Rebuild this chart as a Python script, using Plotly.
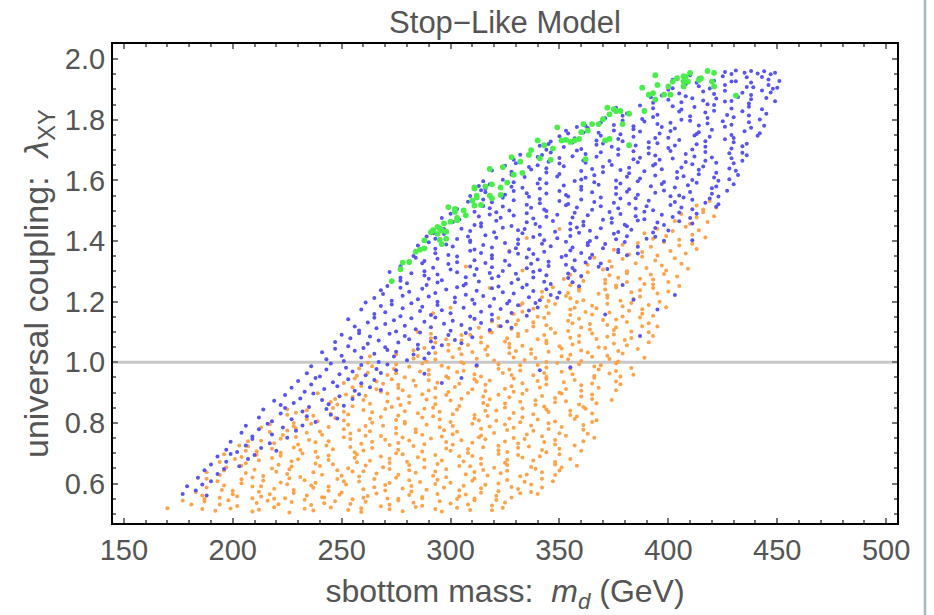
import plotly.graph_objects as go

# Scan points: (sbottom mass m_d in GeV, universal coupling lambda_XY), one list per outcome class.
orange_pts = [
    # lambda 0.50-0.55
    (170,0.519),(177,0.544),(181,0.531),
    (186,0.516),(187,0.549),(187,0.541),(192,0.510),(194,0.531),(198,0.545),(199,0.518),(202,0.526),(209,0.552),(209,0.508),
    (211,0.536),(212,0.514),(216,0.543),(219,0.522),(219,0.550),(221,0.532),(226,0.505),(227,0.539),(233,0.517),(233,0.547),
    (236,0.529),(237,0.511),(242,0.535),(242,0.554),(245,0.521),(247,0.542),(253,0.513),(254,0.533),(255,0.548),(259,0.519),
    (259,0.506),(261,0.540),(268,0.525),(271,0.551),(272,0.515),(272,0.530),(276,0.544),(278,0.509),(283,0.537),(284,0.523),
    (287,0.552),(287,0.527),(293,0.516),(295,0.542),(296,0.508),(300,0.534),(303,0.549),(303,0.520),(308,0.531),(309,0.513),
    (311,0.545),(319,0.528),(319,0.512),(321,0.546),(324,0.520),(325,0.538),
    # 0.55-0.60
    (183,0.572),(186,0.561),(188,0.587),(194,0.553),(195,0.579),(196,0.594),(200,0.565),(200,0.576),(202,0.558),(209,0.590),
    (212,0.573),(213,0.557),(213,0.591),(217,0.565),(219,0.583),(224,0.552),(225,0.598),(228,0.569),(228,0.579),(234,0.561),
    (236,0.594),(237,0.586),(241,0.555),(244,0.576),(244,0.590),(249,0.563),(250,0.571),(252,0.597),(260,0.553),(260,0.581),
    (262,0.559),(265,0.588),(266,0.567),(270,0.595),(270,0.577),(276,0.550),(278,0.584),(281,0.562),(282,0.592),(282,0.574),
    (287,0.556),(289,0.580),(293,0.599),(294,0.566),(297,0.587),(304,0.558),(304,0.578),(306,0.593),(307,0.564),(311,0.551),
    (314,0.585),(314,0.570),(316,0.596),(321,0.560),(322,0.575),(328,0.589),(328,0.554),(331,0.582),(332,0.568),(337,0.597),
    (337,0.572),(340,0.566),(342,0.587),
    # 0.60-0.65
    (188,0.616),(188,0.637),(193,0.608),(194,0.628),(196,0.643),(204,0.614),(204,0.601),(206,0.635),(209,0.620),(210,0.646),
    (214,0.610),(214,0.625),(220,0.639),(222,0.604),(225,0.632),(226,0.618),(226,0.647),(231,0.622),(233,0.611),(237,0.637),
    (238,0.603),(241,0.629),(248,0.644),(248,0.615),(250,0.626),(251,0.608),(255,0.640),(258,0.623),(258,0.607),(260,0.641),
    (265,0.615),(266,0.633),(272,0.602),(272,0.648),(275,0.619),(276,0.629),(281,0.611),(281,0.644),(284,0.636),(286,0.605),
    (292,0.626),(293,0.640),(294,0.613),(298,0.621),(298,0.647),(300,0.603),(307,0.631),(310,0.609),(311,0.638),(311,0.617),
    (315,0.645),(317,0.627),(322,0.600),(323,0.634),(326,0.612),(326,0.642),(332,0.624),(334,0.606),(335,0.630),(339,0.649),
    (342,0.616),(342,0.637),(347,0.608),(348,0.628),(350,0.643),
    # 0.65-0.70
    (194,0.671),(196,0.697),(197,0.653),(201,0.681),(204,0.659),(204,0.688),(206,0.667),(211,0.695),(212,0.677),(218,0.650),
    (218,0.684),(221,0.662),(222,0.692),(227,0.674),(227,0.656),(230,0.680),(232,0.699),(238,0.666),(239,0.687),(240,0.658),
    (244,0.678),(244,0.693),(246,0.664),(253,0.651),(256,0.685),(257,0.670),(257,0.696),(261,0.660),(263,0.675),(268,0.689),
    (269,0.654),(272,0.682),(272,0.668),(278,0.697),(280,0.672),(281,0.661),(285,0.687),(288,0.653),(288,0.679),(293,0.694),
    (294,0.665),(296,0.676),(304,0.658),(304,0.690),(306,0.673),(309,0.657),(310,0.691),(314,0.665),(314,0.683),(320,0.652),
    (322,0.698),(325,0.669),(326,0.679),(326,0.661),(331,0.694),(333,0.686),(337,0.655),(338,0.676),(341,0.690),(348,0.663),
    (348,0.671),(350,0.697),(351,0.653),(355,0.681),(358,0.659),
    # 0.70-0.75
    (203,0.726),(206,0.708),(207,0.740),(207,0.723),(211,0.707),(213,0.741),(218,0.715),(219,0.733),(222,0.702),(222,0.748),
    (228,0.719),(230,0.729),(231,0.711),(235,0.744),(238,0.736),(238,0.705),(243,0.726),(244,0.740),(246,0.713),(254,0.721),
    (254,0.747),(256,0.703),(259,0.731),(260,0.709),(264,0.738),(264,0.717),(270,0.745),(272,0.727),(275,0.700),(276,0.734),
    (276,0.712),(281,0.742),(283,0.724),(287,0.706),(288,0.730),(291,0.749),(298,0.716),(298,0.737),(300,0.708),(301,0.728),
    (305,0.743),(308,0.714),(308,0.701),(310,0.735),(315,0.720),(316,0.746),(322,0.710),(322,0.725),(325,0.739),(326,0.704),
    (331,0.732),(331,0.718),(334,0.747),(336,0.722),(342,0.711),(343,0.737),(344,0.703),(348,0.729),(348,0.744),(350,0.715),
    (357,0.726),(360,0.708),(361,0.740),
    # 0.75-0.80
    (213,0.785),(217,0.770),(217,0.796),(223,0.760),(225,0.775),(228,0.789),(229,0.754),(229,0.782),(234,0.768),(236,0.797),
    (240,0.772),(241,0.761),(244,0.787),(251,0.753),(251,0.779),(253,0.794),(254,0.765),(258,0.776),(261,0.758),(261,0.790),
    (263,0.773),(268,0.757),(269,0.791),(275,0.765),(275,0.783),(278,0.752),(279,0.798),(284,0.769),(284,0.779),(287,0.761),
    (289,0.794),(295,0.786),(296,0.755),(297,0.776),(301,0.790),(301,0.763),(303,0.771),(310,0.797),(313,0.753),(314,0.781),
    (314,0.759),(318,0.788),(320,0.767),(325,0.795),(326,0.777),(329,0.750),(329,0.784),(335,0.762),(337,0.792),(338,0.774),
    (342,0.756),(345,0.780),(345,0.799),(350,0.766),(351,0.787),(353,0.758),(361,0.778),(361,0.793),(363,0.764),(366,0.751),
    # 0.80-0.85
    (225,0.845),(225,0.827),(228,0.800),(229,0.834),(234,0.812),(234,0.842),(237,0.824),(239,0.806),(245,0.830),(246,0.849),
    (247,0.816),(251,0.837),(251,0.808),(253,0.828),(260,0.843),(263,0.814),(264,0.801),(264,0.835),(268,0.820),(270,0.846),
    (275,0.810),(276,0.825),(279,0.839),(279,0.804),(285,0.832),(287,0.818),(288,0.847),(292,0.822),(295,0.811),(295,0.837),
    (300,0.803),(301,0.829),(303,0.844),(311,0.815),(311,0.826),(313,0.808),(316,0.840),(317,0.823),(321,0.807),(321,0.841),
    (327,0.815),(329,0.833),(332,0.802),(333,0.848),(333,0.819),(338,0.829),(340,0.811),(344,0.844),(345,0.836),(348,0.805),
    (355,0.826),(355,0.840),(357,0.813),(358,0.821),(362,0.847),(365,0.803),(365,0.831),(367,0.809),
    # 0.85-0.90
    (239,0.898),(245,0.869),(247,0.879),(248,0.861),(252,0.894),(255,0.886),(255,0.855),(260,0.876),(261,0.890),(263,0.863),
    (271,0.871),(271,0.897),(273,0.853),(276,0.881),(277,0.859),(281,0.888),(281,0.867),(287,0.895),(289,0.877),(292,0.850),
    (293,0.884),(293,0.862),(298,0.892),(300,0.874),(304,0.856),(305,0.880),(308,0.899),(315,0.866),(315,0.887),(317,0.858),
    (318,0.878),(322,0.893),(325,0.864),(325,0.851),(327,0.885),(332,0.870),(333,0.896),(339,0.860),(339,0.875),(342,0.889),
    (343,0.854),(348,0.882),(348,0.868),(351,0.897),(353,0.872),(359,0.861),(360,0.887),(361,0.853),(365,0.879),(365,0.894),
    (367,0.865),(374,0.876),
    # 0.90-0.95
    (251,0.932),(255,0.918),(256,0.947),(259,0.922),(266,0.911),(266,0.937),(268,0.903),(269,0.929),(273,0.944),(276,0.915),
    (276,0.926),(278,0.908),(283,0.940),(284,0.923),(290,0.907),(290,0.941),(293,0.915),(294,0.933),(299,0.902),(299,0.948),
    (302,0.919),(304,0.929),(310,0.911),(311,0.944),(312,0.936),(316,0.905),(316,0.926),(318,0.940),(325,0.913),(328,0.921),
    (329,0.947),(329,0.903),(333,0.931),(335,0.909),(340,0.938),(341,0.917),(344,0.945),(344,0.927),(350,0.900),(352,0.934),
    (353,0.912),(357,0.942),(360,0.924),(360,0.906),(365,0.930),(366,0.949),(368,0.916),(376,0.937),(376,0.908),(378,0.928),
    # 0.95-1.00
    (257,0.956),(258,0.980),(262,0.999),(262,0.966),(264,0.987),(271,0.958),(274,0.978),(275,0.993),(275,0.964),(279,0.951),
    (281,0.985),(286,0.970),(287,0.996),(290,0.960),(290,0.975),(296,0.989),(298,0.954),(299,0.982),(303,0.968),(306,0.997),
    (306,0.972),(311,0.961),(312,0.987),(314,0.953),(322,0.979),(322,0.994),(324,0.965),(327,0.976),(328,0.958),(332,0.990),
    (332,0.973),(338,0.957),(340,0.991),(343,0.965),(344,0.983),(344,0.952),(349,0.998),(351,0.969),(355,0.979),(356,0.961),
    (359,0.994),(366,0.986),(366,0.955),(368,0.976),(369,0.990),(373,0.963),(376,0.971),(376,0.997),(378,0.953),(383,0.981),
    (384,0.959),
    # 1.00-1.05
    (275,1.026),(283,1.040),(283,1.013),(285,1.021),(288,1.047),(289,1.003),(293,1.031),(293,1.009),(299,1.038),(301,1.017),
    (304,1.045),(305,1.027),(305,1.000),(310,1.034),(312,1.012),(316,1.042),(317,1.024),(320,1.006),(327,1.030),(327,1.049),
    (329,1.016),(330,1.037),(334,1.008),(337,1.028),(337,1.043),(339,1.014),(344,1.001),(345,1.035),(351,1.020),(351,1.046),
    (354,1.010),(355,1.025),(360,1.039),(360,1.004),(363,1.032),(365,1.018),(371,1.047),(372,1.022),(373,1.011),(377,1.037),
    (377,1.003),(379,1.029),(386,1.044),(389,1.015),
    # 1.05-1.10
    (291,1.079),(291,1.094),(293,1.065),(298,1.076),(299,1.058),(305,1.090),(305,1.073),(308,1.057),(309,1.091),(314,1.065),
    (314,1.083),(317,1.052),(319,1.098),(325,1.069),(326,1.079),(327,1.061),(331,1.094),(331,1.086),(333,1.055),(340,1.076),
    (343,1.090),(344,1.063),(344,1.071),(348,1.097),(350,1.053),(355,1.081),(356,1.059),(359,1.088),(359,1.067),(365,1.095),
    (367,1.077),(368,1.050),(372,1.084),(375,1.062),(375,1.092),(380,1.074),(381,1.056),(383,1.080),(391,1.099),(391,1.066),
    (393,1.087),
    # 1.10-1.15
    (311,1.143),(313,1.114),(318,1.101),(319,1.135),(322,1.120),(322,1.146),(328,1.110),(330,1.125),(331,1.139),(335,1.104),
    (338,1.132),(338,1.118),(343,1.147),(344,1.122),(346,1.111),(354,1.137),(354,1.103),(356,1.129),(359,1.144),(360,1.115),
    (364,1.126),(364,1.108),(370,1.140),(372,1.123),(375,1.107),(376,1.141),(376,1.115),(381,1.133),(383,1.102),(387,1.148),
    (388,1.119),(391,1.129),(395,1.118),
    # 1.15-1.20
    (329,1.159),(332,1.188),(333,1.167),(333,1.195),(338,1.177),(340,1.150),(344,1.184),(345,1.162),(348,1.192),(355,1.174),
    (355,1.156),(357,1.180),(358,1.199),(362,1.166),(365,1.187),(365,1.158),(367,1.178),(372,1.193),(373,1.164),(379,1.151),
    (379,1.185),(382,1.170),(383,1.196),(388,1.160),(388,1.175),(391,1.189),(393,1.154),(399,1.182),
    # 1.20-1.25
    (342,1.215),(342,1.233),(345,1.202),(347,1.248),(353,1.219),(354,1.229),(355,1.211),(359,1.244),(359,1.236),(361,1.205),
    (368,1.226),(371,1.240),(372,1.213),(372,1.221),(376,1.247),(378,1.203),(383,1.231),(384,1.209),(387,1.238),(387,1.217),
    (393,1.245),(395,1.227),(396,1.200),(400,1.234),
    # 1.25-1.30
    (352,1.275),(355,1.289),(355,1.254),(360,1.282),(361,1.268),(363,1.297),(371,1.272),(371,1.261),(373,1.287),(376,1.253),
    (377,1.279),(381,1.294),(381,1.265),(387,1.276),(389,1.258),(392,1.290),(393,1.273),(393,1.257),(398,1.291),(400,1.265),
    (404,1.283),(405,1.252),
    # 1.30-1.35
    (363,1.322),(366,1.345),(370,1.306),(373,1.333),(374,1.315),(379,1.341),(381,1.300),(385,1.327),(388,1.348),(390,1.311),
    (394,1.336),(397,1.319),(399,1.303),(403,1.343),(406,1.325),(409,1.309),
    # 1.35-1.40
    (375,1.371),(379,1.388),(382,1.356),(386,1.394),(388,1.364),(392,1.381),(395,1.352),(398,1.397),(401,1.367),(405,1.385),
    (408,1.359),(411,1.391),(413,1.374),
    # 1.40-1.55
    (389,1.426),(393,1.408),(395,1.441),(399,1.417),(402,1.433),(405,1.404),(408,1.447),(411,1.421),(414,1.436),(417,1.412),
    (403,1.466),(406,1.489),(410,1.457),(413,1.478),(416,1.495),(418,1.463),(421,1.482),
    (413,1.517),(416,1.504),(419,1.532),(422,1.511),
    # isolated points inside the blue region
    (307,1.316),(327,1.368),(335,1.410),(333,1.303),(350,1.440),(300,1.180),(285,1.100),(263,1.020),(292,1.162),(318,1.245),
]

blue_pts = [
    # lambda 0.55-1.00: narrow band along the upper-left edge
    (177,0.566),(179,0.591),(183,0.577),(186,0.597),(188,0.561),
    (184,0.619),(187,0.644),(190,0.608),(193,0.632),(196,0.648),
    (190,0.663),(193,0.689),(197,0.672),(199,0.698),(203,0.657),(207,0.681),(210,0.694),
    (197,0.712),(199,0.738),(202,0.704),(206,0.726),(209,0.747),(213,0.717),(217,0.733),(220,0.708),
    (204,0.768),(206,0.791),(209,0.755),(212,0.779),(216,0.797),(218,0.762),(223,0.785),(225,0.751),(229,0.774),(232,0.792),
    (212,0.818),(214,0.844),(218,0.806),(222,0.831),(224,0.849),(227,0.812),(232,0.838),(234,0.822),(238,0.803),(243,0.846),
    (245,0.827),(248,0.815),
    (219,0.873),(222,0.859),(224,0.892),(228,0.866),(231,0.881),(235,0.853),(237,0.897),(241,0.876),(244,0.862),(249,0.888),
    (251,0.857),(255,0.879),(258,0.895),
    (227,0.916),(230,0.938),(233,0.903),(236,0.927),(238,0.948),(242,0.912),(246,0.934),(248,0.921),(253,0.944),(256,0.906),
    (259,0.931),(263,0.918),(265,0.942),(268,0.909),(296,0.932),(305,0.948),
    (234,0.964),(236,0.987),(240,0.953),(243,0.976),(245,0.996),(249,0.961),(252,0.982),(255,0.970),(259,0.991),(261,0.957),
    (266,0.978),(268,0.965),(271,0.993),(275,0.974),(341,0.974),(355,0.984),(312,0.990),(288,0.962),
    # 1.00-1.05
    (241,1.033),(243,1.010),(247,1.045),(250,1.022),(251,1.004),(256,1.038),(259,1.016),(260,1.047),(265,1.028),(267,1.001),
    (271,1.041),(274,1.019),(275,1.035),(280,1.007),(283,1.026),(285,1.044),(288,1.013),(290,1.030),(292,1.049),
    # 1.05-1.10
    (247,1.067),(250,1.091),(253,1.053),(254,1.079),(258,1.096),(262,1.061),(263,1.085),(267,1.072),(270,1.050),(272,1.094),
    (276,1.065),(279,1.087),(281,1.076),(285,1.058),(286,1.098),(291,1.069),(293,1.081),(296,1.056),(299,1.090),(302,1.074),
    (305,1.063),(307,1.097),(310,1.083),
    # 1.10-1.15
    (253,1.142),(256,1.118),(258,1.105),(262,1.131),(265,1.147),(266,1.112),(270,1.126),(274,1.139),(275,1.102),(279,1.121),
    (282,1.145),(284,1.109),(288,1.134),(291,1.116),(293,1.148),(297,1.127),(300,1.104),(301,1.137),(305,1.123),(309,1.111),
    (311,1.144),(314,1.130),(318,1.107),(319,1.140),(323,1.119),(326,1.135),(328,1.114),
    # 1.15-1.20
    (259,1.174),(261,1.197),(265,1.159),(268,1.186),(270,1.165),(273,1.191),(277,1.152),(278,1.178),(282,1.195),(286,1.169),
    (287,1.183),(291,1.156),(294,1.189),(296,1.172),(300,1.162),(302,1.198),(306,1.180),(309,1.151),(311,1.193),(314,1.167),
    (318,1.185),(319,1.158),(323,1.176),(326,1.194),(328,1.163),(331,1.188),(335,1.154),(336,1.171),(339,1.196),(340,1.181),
    # 1.20-1.25
    (265,1.212),(268,1.238),(269,1.225),(273,1.203),(277,1.246),(278,1.220),(281,1.233),(285,1.208),(287,1.243),(290,1.217),
    (293,1.229),(294,1.200),(298,1.240),(302,1.214),(303,1.248),(307,1.223),(310,1.206),(312,1.236),(315,1.219),(319,1.244),
    (320,1.210),(324,1.231),(327,1.202),(329,1.227),(333,1.247),(336,1.215),(338,1.235),(341,1.205),(344,1.241),(346,1.222),
    (349,1.213),(350,1.230),
    # 1.25-1.30
    (271,1.252),(272,1.298),(277,1.269),(277,1.279),(280,1.261),(282,1.294),(288,1.286),(289,1.255),(290,1.276),(294,1.290),
    (294,1.263),(296,1.271),(303,1.297),(306,1.253),(307,1.281),(307,1.259),(311,1.288),(313,1.267),(318,1.295),(319,1.277),
    (322,1.250),(322,1.284),(328,1.262),(330,1.292),(331,1.274),(335,1.256),(338,1.280),(338,1.299),(343,1.266),(344,1.287),
    (346,1.258),(354,1.278),(354,1.293),(356,1.264),(359,1.251),(360,1.285),
    # 1.30-1.35
    (277,1.317),(284,1.345),(287,1.327),(288,1.300),(288,1.334),(292,1.312),(294,1.342),(299,1.324),(300,1.306),(303,1.330),
    (303,1.349),(309,1.316),(311,1.337),(312,1.308),(316,1.328),(319,1.343),(319,1.314),(324,1.301),(325,1.335),(327,1.320),
    (335,1.346),(335,1.310),(337,1.325),(340,1.339),(341,1.304),(345,1.332),(345,1.318),(351,1.347),(353,1.322),(356,1.311),
    (357,1.337),(357,1.303),(362,1.329),(364,1.344),(368,1.315),(369,1.326),(372,1.308),
    # 1.35-1.40
    (283,1.351),(285,1.385),(286,1.370),(290,1.396),(293,1.360),(293,1.375),(298,1.389),(299,1.354),(301,1.382),(309,1.368),
    (309,1.397),(311,1.372),(314,1.361),(315,1.387),(319,1.353),(319,1.379),(325,1.394),(327,1.365),(330,1.376),(331,1.358),
    (331,1.390),(336,1.373),(338,1.357),(342,1.391),(343,1.365),(346,1.383),(353,1.352),(353,1.398),(355,1.369),(356,1.379),
    (360,1.361),(363,1.394),(363,1.386),(365,1.355),(370,1.376),(371,1.390),(377,1.363),(377,1.371),(380,1.397),(381,1.353),
    (386,1.381),(386,1.359),
    # 1.40-1.45
    (289,1.415),(292,1.426),(293,1.408),(297,1.440),(297,1.423),(303,1.407),(305,1.441),(308,1.415),(309,1.433),(309,1.402),
    (314,1.448),(316,1.419),(320,1.429),(321,1.411),(324,1.444),(331,1.436),(331,1.405),(333,1.426),(334,1.440),(338,1.413),
    (341,1.421),(341,1.447),(343,1.403),(348,1.431),(349,1.409),(355,1.438),(355,1.417),(358,1.445),(359,1.427),(364,1.400),
    (364,1.434),(367,1.412),(369,1.442),(375,1.424),(376,1.406),(377,1.430),(381,1.449),(381,1.416),(383,1.437),(390,1.408),
    (393,1.428),(394,1.443),(394,1.414),(398,1.401),(400,1.435),
    # 1.45-1.50
    (296,1.476),(300,1.490),(301,1.463),(304,1.471),(311,1.497),(311,1.453),(313,1.481),(314,1.459),(318,1.488),(321,1.467),
    (321,1.495),(323,1.477),(328,1.450),(329,1.484),(335,1.462),(335,1.492),(338,1.474),(339,1.456),(344,1.480),(344,1.499),
    (347,1.466),(349,1.487),(355,1.458),(356,1.478),(357,1.493),(361,1.464),(361,1.451),(363,1.485),(370,1.470),(373,1.496),
    (374,1.460),(374,1.475),(378,1.489),(380,1.454),(385,1.482),(386,1.468),(389,1.497),(389,1.472),(395,1.461),(397,1.487),
    (398,1.453),(402,1.479),(405,1.494),(405,1.465),(410,1.476),(411,1.458),(413,1.490),
    # 1.50-1.55
    (303,1.506),(308,1.530),(309,1.549),(315,1.516),(315,1.537),(318,1.508),(319,1.528),(324,1.543),(324,1.514),(327,1.501),
    (329,1.535),(335,1.520),(336,1.546),(337,1.510),(341,1.525),(341,1.539),(343,1.504),(350,1.532),(353,1.518),(354,1.547),
    (354,1.522),(358,1.511),(360,1.537),(365,1.503),(366,1.529),(369,1.544),(369,1.515),(375,1.526),(377,1.508),(378,1.540),
    (382,1.523),(385,1.507),(385,1.541),(390,1.515),(391,1.533),(393,1.502),(401,1.548),(401,1.519),(403,1.529),(406,1.511),
    (407,1.544),(411,1.536),(411,1.505),(417,1.526),(419,1.540),(422,1.513),(423,1.521),(423,1.547),
    # 1.55-1.60
    (313,1.582),(314,1.568),(315,1.597),(316,1.572),(316,1.561),(318,1.587),(325,1.553),(328,1.579),(329,1.594),(329,1.565),
    (333,1.576),(335,1.558),(340,1.590),(341,1.573),(344,1.557),(344,1.591),(350,1.565),(352,1.583),(353,1.552),(357,1.598),
    (360,1.569),(360,1.579),(365,1.561),(366,1.594),(368,1.586),(376,1.555),(376,1.576),(378,1.590),(381,1.563),(382,1.571),
    (386,1.597),(386,1.553),(392,1.581),(394,1.559),(397,1.588),(398,1.567),(398,1.595),(403,1.577),(405,1.550),(409,1.584),
    (410,1.562),(413,1.592),(420,1.574),(420,1.556),(422,1.580),(423,1.599),(427,1.566),(430,1.587),
    # 1.60-1.65
    (319,1.633),(324,1.602),(325,1.648),(328,1.619),(328,1.629),(334,1.611),(336,1.644),(337,1.636),(341,1.605),(344,1.626),
    (344,1.640),(349,1.613),(350,1.621),(352,1.647),(360,1.603),(360,1.631),(362,1.609),(365,1.638),(366,1.617),(370,1.645),
    (370,1.627),(376,1.600),(378,1.634),(381,1.612),(382,1.642),(382,1.624),(387,1.606),(389,1.630),(393,1.649),(394,1.616),
    (397,1.637),(404,1.608),(404,1.628),(406,1.643),(407,1.614),(411,1.601),(414,1.635),(414,1.620),(416,1.646),(421,1.610),
    (422,1.625),(428,1.639),(428,1.604),(431,1.632),(432,1.618),
    # 1.65-1.70
    (329,1.668),(330,1.657),(332,1.685),(340,1.677),(340,1.650),(342,1.684),(345,1.662),(346,1.692),(350,1.674),(350,1.656),
    (356,1.680),(358,1.699),(361,1.666),(362,1.687),(362,1.658),(367,1.678),(369,1.693),(373,1.664),(374,1.651),(377,1.685),
    (384,1.670),(384,1.696),(386,1.660),(387,1.675),(391,1.689),(394,1.654),(394,1.682),(396,1.668),(401,1.697),(402,1.672),
    (408,1.661),(408,1.687),(411,1.653),(412,1.679),(417,1.694),(417,1.665),(420,1.676),(422,1.658),(428,1.690),(429,1.673),
    (430,1.657),(434,1.691),(434,1.665),(436,1.683),
    # 1.70-1.75
    (341,1.714),(344,1.701),(346,1.728),(345,1.720),(350,1.746),(352,1.710),(356,1.725),(357,1.739),(360,1.704),(367,1.732),
    (367,1.718),(369,1.747),(370,1.722),(374,1.711),(377,1.737),(377,1.703),(379,1.729),(384,1.744),(385,1.715),(391,1.726),
    (391,1.708),(394,1.740),(395,1.723),(400,1.707),(400,1.741),(403,1.715),(405,1.733),(411,1.702),(412,1.748),(413,1.719),
    (417,1.729),(417,1.711),(419,1.744),(426,1.736),(429,1.705),(430,1.726),(430,1.740),(434,1.713),(436,1.721),(441,1.747),
    # 1.75-1.80
    (353,1.764),(354,1.755),(358,1.776),(361,1.758),(362,1.780),(363,1.773),(368,1.757),(369,1.791),(375,1.765),(375,1.783),
    (378,1.752),(379,1.798),(384,1.769),(384,1.779),(387,1.761),(389,1.794),(395,1.786),(396,1.755),(397,1.776),(401,1.790),
    (401,1.763),(403,1.771),(410,1.797),(413,1.753),(414,1.781),(414,1.759),(418,1.788),(420,1.767),(425,1.795),(426,1.777),
    (429,1.750),(429,1.784),(435,1.762),(437,1.792),(438,1.774),(442,1.756),(444,1.780),
    # 1.80-1.85
    (371,1.805),(376,1.826),(376,1.840),(379,1.813),(381,1.821),(387,1.847),(388,1.803),(389,1.831),(393,1.809),(393,1.838),
    (395,1.817),(402,1.845),(405,1.827),(406,1.800),(406,1.834),(410,1.812),(412,1.842),(417,1.824),(418,1.806),(421,1.830),
    (421,1.849),(427,1.816),(429,1.837),(430,1.808),(434,1.828),(437,1.843),(437,1.814),(442,1.801),(443,1.835),(445,1.820),
    # 1.85-1.90
    (392,1.874),(393,1.856),(397,1.880),(400,1.899),(400,1.866),(405,1.887),(406,1.858),(408,1.878),(416,1.893),(416,1.864),
    (418,1.851),(421,1.885),(422,1.870),(426,1.896),(426,1.860),(432,1.875),(434,1.889),(437,1.854),(438,1.882),(438,1.868),
    (443,1.897),(445,1.872),(449,1.861),(411,1.871),(429,1.862),(447,1.890),
    # 1.90-1.97
    (402,1.904),(402,1.932),(408,1.918),(410,1.947),(413,1.922),(414,1.911),(414,1.937),(419,1.903),(421,1.929),(425,1.944),
    (426,1.915),(429,1.926),(436,1.908),(436,1.940),(438,1.923),(439,1.907),(443,1.941),(446,1.915),(446,1.933),(448,1.902),
    (451,1.928),(431,1.927),(450,1.906),
    (426,1.958),(429,1.951),(431,1.963),(435,1.955),(438,1.961),(441,1.953),(444,1.960),(447,1.950),(449,1.955),
    # isolated points inside the orange region
    (379,1.255),(384,1.206),(395,1.174),(371,1.158),(387,1.087),(403,1.222),(411,1.403),
]

green_pts = [
    (273,1.268),(277,1.307),(278,1.329),(281,1.331),(284,1.365),(286,1.372),(288,1.376),(288,1.402),(291,1.429),(292,1.436),
    (294,1.424),(295,1.442),(296,1.435),(297,1.458),(298,1.431),(299,1.512),(300,1.464),(302,1.506),(302,1.496),(303,1.469),
    (303,1.476),(306,1.501),(307,1.485),(310,1.533),(311,1.573),(312,1.544),(295,1.404),(296,1.390),(298,1.408),(294,1.447),
    (311,1.577),(312,1.550),(311,1.517),(314,1.519),(318,1.638),(316,1.580),(319,1.587),(318,1.550),(319,1.541),(323,1.577),
    (323,1.552),(324,1.644),(326,1.593),(328,1.677),(329,1.619),(332,1.662),(333,1.625),(336,1.684),(337,1.700),(340,1.732),
    (341,1.673),(343,1.716),(346,1.668),(347,1.705),(349,1.775),(351,1.732),(353,1.734),(355,1.727),(357,1.732),(359,1.737),
    (361,1.786),(360,1.759),(362,1.670),(363,1.764),(365,1.786),(368,1.786),(370,1.802),(372,1.840),(373,1.818),(375,1.835),
    (376,1.829),(378,1.829),(379,1.786),(382,1.820),(382,1.716),(371,1.732),(373,1.737),(388,1.906),(389,1.829),(391,1.883),
    (393,1.888),(394,1.947),(395,1.915),(398,1.883),(400,1.910),(401,1.883),(402,1.926),(404,1.937),(407,1.926),(408,1.942),
    (394,1.867),(407,1.944),(407,1.910),(410,1.955),(409,1.926),(414,1.931),(415,1.937),(418,1.961),(420,1.926),(421,1.910),
    (421,1.955),(431,1.880),
]

ORANGE = "rgb(255,163,72)"
BLUE = "rgb(88,84,242)"
GREEN = "rgb(74,238,74)"
TEXT = "#555555"
FONT = "Liberation Sans, Arial, Helvetica, sans-serif"
NB = "\u00a0"

fig = go.Figure()
for pts, color, size in [(orange_pts, ORANGE, 4.0), (blue_pts, BLUE, 4.0), (green_pts, GREEN, 5.8)]:
    fig.add_trace(go.Scatter(
        x=[p[0] for p in pts], y=[p[1] for p in pts], mode="markers",
        marker=dict(color=color, size=size, line=dict(width=0)),
        showlegend=False, hoverinfo="skip",
    ))

axis_common = dict(
    showline=True, linecolor="black", linewidth=2, mirror="allticks",
    ticks="inside", ticklen=5, tickwidth=1.5, tickcolor="#777777",
    showgrid=False, zeroline=False,
    tickfont=dict(family=FONT, size=29, color=TEXT),
)
minor_common = dict(ticks="inside", ticklen=3, tickwidth=1.5, tickcolor="#777777", showgrid=False)

fig.update_layout(
    width=934, height=615,
    margin=dict(l=113, r=37, t=44, b=87),
    paper_bgcolor="white", plot_bgcolor="white",
    title=dict(text="Stop\u2212Like Model", x=0.5, xref="paper", xanchor="center",
               y=1 - 22 / 615, yanchor="middle",
               font=dict(family=FONT, size=31, color=TEXT)),
    xaxis=dict(
        range=[145, 505], tick0=150, dtick=50,
        minor=dict(dtick=10, **minor_common),
        title=dict(text="sbottom mass:" + NB + NB + "<i>m<sub>d</sub></i> (GeV)", standoff=15,
                   font=dict(family=FONT, size=32, color=TEXT)),
        **axis_common,
    ),
    yaxis=dict(
        range=[0.47, 2.05], tick0=0.6, dtick=0.2, tickformat=".1f",
        minor=dict(dtick=0.05, **minor_common),
        title=dict(text="universal coupling:" + NB + NB + "<i>\u03bb</i><sub>XY</sub>", standoff=6,
                   font=dict(family=FONT, size=34, color=TEXT)),
        **axis_common,
    ),
    shapes=[
        # reference coupling lambda = 1
        dict(type="line", xref="paper", x0=0, x1=1, yref="y", y0=1.0, y1=1.0,
             line=dict(color="#c8c8c8", width=3), layer="below"),
        # page border on the right
        dict(type="line", xref="paper", x0=1.0357, x1=1.0357, yref="paper", y0=-0.2, y1=1.1,
             line=dict(color="#a3b8c2", width=2.5)),
    ],
)

fig.write_html("out.html")
